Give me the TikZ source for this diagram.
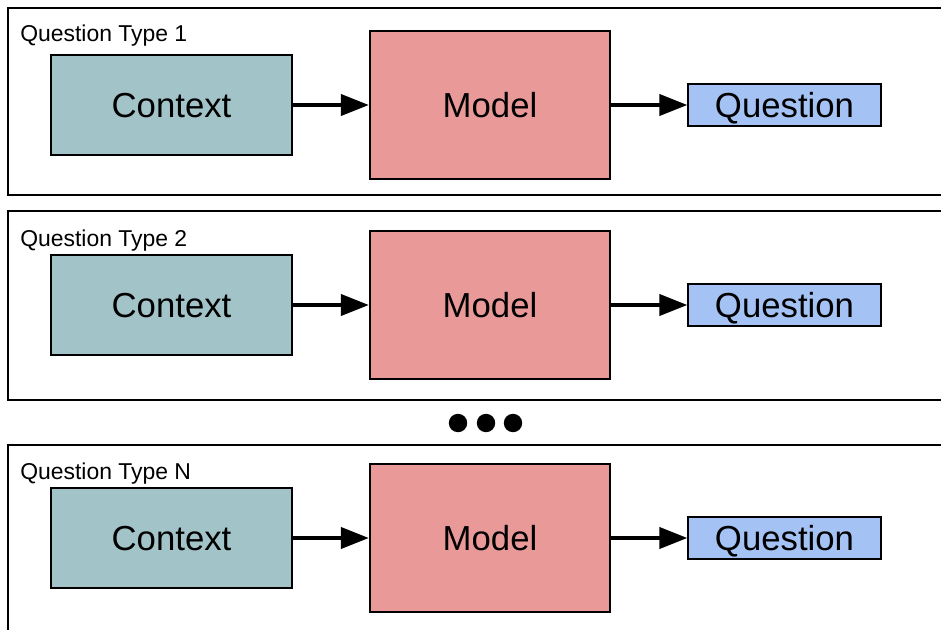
\documentclass[tikz,border=0pt]{standalone}
\usepackage{fontspec}
\setmainfont{Liberation Sans}
\usetikzlibrary{arrows.meta}
\definecolor{ctxfill}{HTML}{A2C4C9}
\definecolor{mdlfill}{HTML}{EA9999}
\definecolor{qstfill}{HTML}{A4C2F4}
\begin{document}
\begin{tikzpicture}[x=0.025cm,y=-0.025cm,
    panel/.style={draw,line width=1.4pt},
    tag/.style={anchor=west,inner sep=0pt,text depth=0pt,font=\fontsize{16.3}{19}\selectfont},
    box/.style={draw,line width=1.4pt,inner sep=0pt,text depth=0pt,font=\fontsize{24.7}{29}\selectfont},
    ctxbox/.style={box,fill=ctxfill,minimum width=6cm,minimum height=2.5cm},
    mdlbox/.style={box,fill=mdlfill,minimum width=6cm,minimum height=3.675cm},
    qstbox/.style={box,fill=qstfill,minimum width=4.8cm,minimum height=1.05cm},
    flow/.style={-{Triangle[length=0.7cm,width=0.52cm]},line width=3.1pt}]
        \clip (0,0) rectangle (941,630);
        % panels
        \draw[panel] (8,8) rectangle (970,195);
        \draw[panel] (8,211) rectangle (970,400);
        \draw[panel] (8,445) rectangle (970,640);
        \node[tag] (tag1) at (20,33) {Question Type 1};
        \node[tag] (tag2) at (20,238) {Question Type 2};
        \node[tag] (tag3) at (20,471) {Question Type N};
        % boxes
        \node[ctxbox] (ctx1) at (171.5,105) {Context};
        \node[mdlbox] (mdl1) at (490,105) {Model};
        \node[qstbox] (qst1) at (784.5,105) {Question};
        \node[ctxbox] (ctx2) at (171.5,305) {Context};
        \node[mdlbox] (mdl2) at (490,305) {Model};
        \node[qstbox] (qst2) at (784.5,305) {Question};
        \node[ctxbox] (ctx3) at (171.5,538) {Context};
        \node[mdlbox] (mdl3) at (490,538) {Model};
        \node[qstbox] (qst3) at (784.5,538) {Question};
        % arrows
        \draw[flow] (ctx1) -- (mdl1);
        \draw[flow] (mdl1) -- (qst1);
        \draw[flow] (ctx2) -- (mdl2);
        \draw[flow] (mdl2) -- (qst2);
        \draw[flow] (ctx3) -- (mdl3);
        \draw[flow] (mdl3) -- (qst3);
        % dots
        \fill (458,423) circle (0.23cm);
        \fill (486,423) circle (0.23cm);
        \fill (513,423) circle (0.23cm);
\end{tikzpicture}
\end{document}
